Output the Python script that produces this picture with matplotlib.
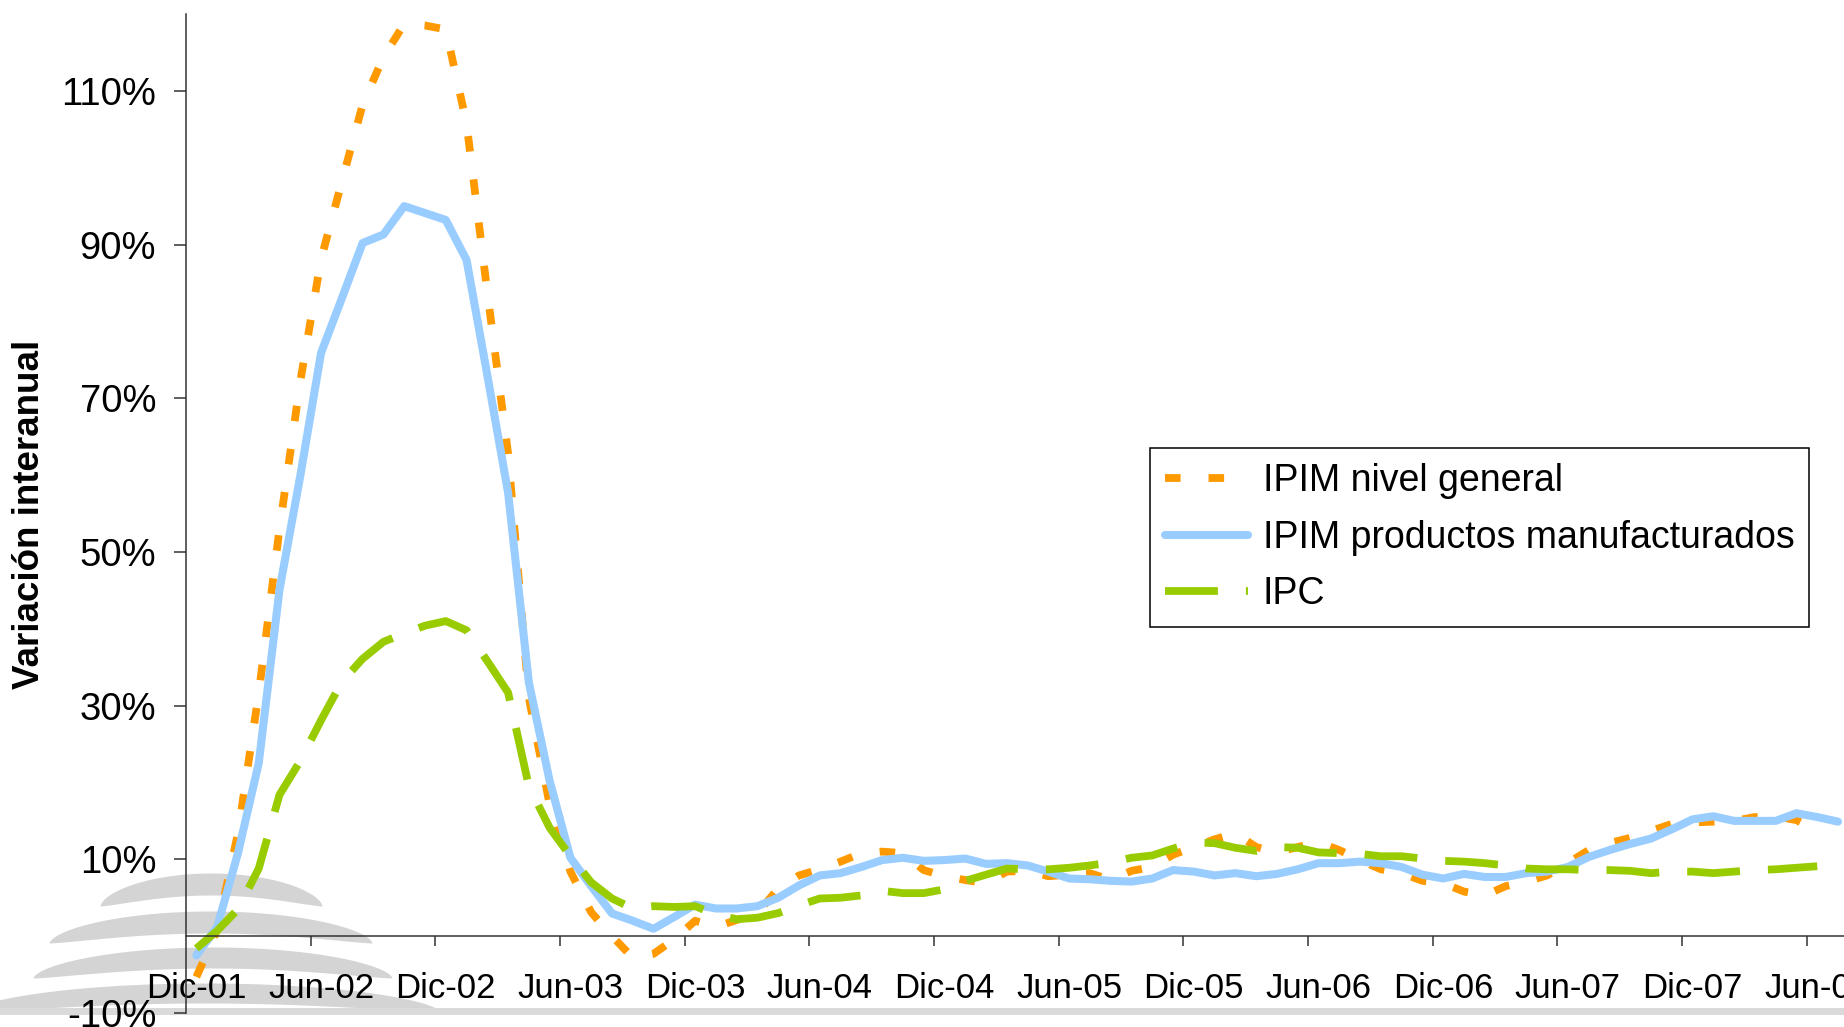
import numpy as np
from matplotlib import pyplot as plt

plt.rcParams['font.family'] = ['Liberation Sans', 'DejaVu Sans']

# monthly data, Dic-01 = index 0
ipim_general = [
    -5.3, 0.8, 13.4, 31.6, 53.0, 72.2, 88.1, 98.2, 108.2, 114.4,
    118.7, 118.5, 118.0, 105.8, 83.8, 62.8, 31.0, 17.1, 8.4, 3.1,
    0.0, -2.8, -2.3, -0.4, 2.0, 1.2, 2.1, 3.0, 6.2, 7.9,
    8.7, 9.7, 10.8, 11.0, 10.8, 8.6, 7.8, 7.3, 6.9, 8.4,
    8.5, 7.8, 8.0, 8.2, 7.3, 8.5, 9.0, 10.6, 11.6, 12.6,
    13.4, 11.6, 10.9, 11.6, 12.2, 11.2, 9.9, 8.7, 8.2, 7.2,
    6.9, 5.8, 5.3, 6.5, 7.1, 7.9, 9.5, 11.2, 12.1, 12.8,
    13.7, 14.6, 14.8, 14.9, 15.0, 15.5, 15.6, 15.1, 13.7]
ipim_manuf = [
    -2.5, 1.2, 10.8, 22.5, 45.1, 59.9, 75.9, 83.0, 90.2, 91.3,
    95.0, 94.1, 93.2, 88.0, 73.0, 57.7, 33.0, 20.2, 10.2, 6.5,
    2.95, 2.0, 0.96, 2.5, 4.1, 3.6, 3.6, 3.9, 5.0, 6.6,
    7.9, 8.2, 9.0, 9.9, 10.2, 9.8, 9.9, 10.1, 9.4, 9.5,
    9.2, 8.4, 7.5, 7.4, 7.2, 7.1, 7.5, 8.6, 8.4, 7.9,
    8.2, 7.8, 8.1, 8.7, 9.5, 9.5, 9.7, 9.5, 9.0, 8.0,
    7.5, 8.1, 7.7, 7.7, 8.2, 8.4, 9.0, 10.3, 11.2, 12.0,
    12.7, 13.9, 15.2, 15.6, 15.0, 15.0, 15.0, 16.0, 15.5, 14.9]
ipc = [
    -1.6, 0.7, 3.5, 8.8, 18.4, 22.8, 28.1, 33.1, 36.1, 38.3,
    39.4, 40.4, 41.0, 39.8, 35.8, 31.7, 19.5, 14.1, 10.4, 7.0,
    4.9, 3.6, 3.9, 3.8, 3.9, 2.8, 2.2, 2.4, 3.0, 4.0,
    4.9, 5.0, 5.3, 5.9, 5.6, 5.6, 6.1, 7.2, 8.0, 8.8,
    8.7, 8.7, 8.9, 9.2, 9.6, 10.2, 10.5, 11.4, 12.2, 12.1,
    11.5, 11.1, 11.6, 11.5, 10.9, 10.8, 10.7, 10.4, 10.4, 10.1,
    9.8, 9.7, 9.5, 9.2, 8.8, 8.7, 8.7, 8.6, 8.6, 8.5,
    8.2, 8.4, 8.4, 8.2, 8.4, 8.6, 8.7, 8.9, 9.1]

month_labels = ['Dic-01', 'Jun-02', 'Dic-02', 'Jun-03', 'Dic-03', 'Jun-04',
                'Dic-04', 'Jun-05', 'Dic-05', 'Jun-06', 'Dic-06', 'Jun-07',
                'Dic-07', 'Jun-08']
y_ticks = [-10, 10, 30, 50, 70, 90, 110]
y_labels = ['-10%', '10%', '30%', '50%', '70%', '90%', '110%']

W, H = 1844, 1027


def crescent(ax, x0, x1, y_end, y_top, y_low, color):
    xs = np.linspace(x0, x1, 400)
    u = (xs - (x0 + x1) / 2) / ((x1 - x0) / 2)
    base = np.clip(1 - u ** 2, 0, None)
    top = y_end - (y_end - y_top) * base ** 0.6
    low = y_end - (y_end - y_low) * base ** 1.3
    ax.fill_between(xs, top, low, color=color, lw=0)


def main():
    fig = plt.figure(figsize=(W / 100, H / 100), dpi=100)

    # grey logo watermark behind the plot
    bg = fig.add_axes([0, 0, 1, 1], zorder=0)
    bg.set_xlim(0, W)
    bg.set_ylim(H, 0)
    bg.axis('off')
    grey = '#d4d4d4'
    crescent(bg, 100, 322, 906, 873, 895, grey)
    crescent(bg, 49, 372, 943, 911, 933, grey)
    crescent(bg, 33, 392, 978, 947, 968, grey)
    crescent(bg, -30, 440, 1012, 983, 1003, grey)
    bg.fill_between([0, W], [1008, 1008], [1015, 1015], color='#dadada', lw=0)

    ax = fig.add_axes([186 / W, 14 / H, 1 - 186 / W, (1013 - 14) / H], zorder=1)
    ax.patch.set_alpha(0)

    x_gen = np.arange(len(ipim_general))
    x_man = np.arange(len(ipim_manuf))
    x_ipc = np.arange(len(ipc))

    ax.plot(x_gen, ipim_general, color='#FF9900', lw=5.6, dashes=(2.0, 3.6),
            dash_capstyle='butt', label='IPIM nivel general')
    ax.plot(x_man, ipim_manuf, color='#99CCFF', lw=5.8,
            solid_joinstyle='round', solid_capstyle='round',
            label='IPIM productos manufacturados')
    ax.plot(x_ipc, ipc, color='#99CC00', lw=5.6, dashes=(6.8, 3.6),
            dash_capstyle='butt', label='IPC')

    ax.set_xlim(-0.5, (W - 186) / 20.78 - 0.5)
    ax.set_ylim(-10, 120)

    for side in ['top', 'right']:
        ax.spines[side].set_visible(False)
    ax.spines['bottom'].set_position(('data', 0))
    for side in ['left', 'bottom']:
        ax.spines[side].set_color('#333333')
        ax.spines[side].set_linewidth(1.1)

    ax.set_xticks(np.arange(len(month_labels)) * 6)
    ax.set_xticklabels(month_labels)
    ax.set_xticks(np.arange(1, len(month_labels)) * 6 - 0.5, minor=True)
    ax.tick_params(axis='x', which='major', length=0, pad=26, labelsize=25)
    ax.tick_params(axis='x', which='minor', length=7.5, width=1.1,
                   direction='out', color='#333333')

    ax.set_yticks(y_ticks)
    ax.set_yticklabels(y_labels)
    ax.tick_params(axis='y', length=8.5, width=1.1, direction='out',
                   pad=13, labelsize=27.5, color='#333333')

    fig.text(30 / W, 1 - 514 / H, 'Variación interanual', rotation=90,
             ha='center', va='center', fontsize=26.5, fontweight='bold')

    leg = ax.legend(loc='upper left', bbox_to_anchor=(1150 / W, 1 - 448 / H),
                    bbox_transform=fig.transFigure, borderaxespad=0,
                    fontsize=27, handlelength=2.2, handletextpad=0.4,
                    labelspacing=0.55, borderpad=0.4, fancybox=False,
                    framealpha=1, edgecolor='black')
    leg.get_frame().set_linewidth(1.1)

    fig.savefig('out.png', dpi=100)


if __name__ == '__main__':
    main()
